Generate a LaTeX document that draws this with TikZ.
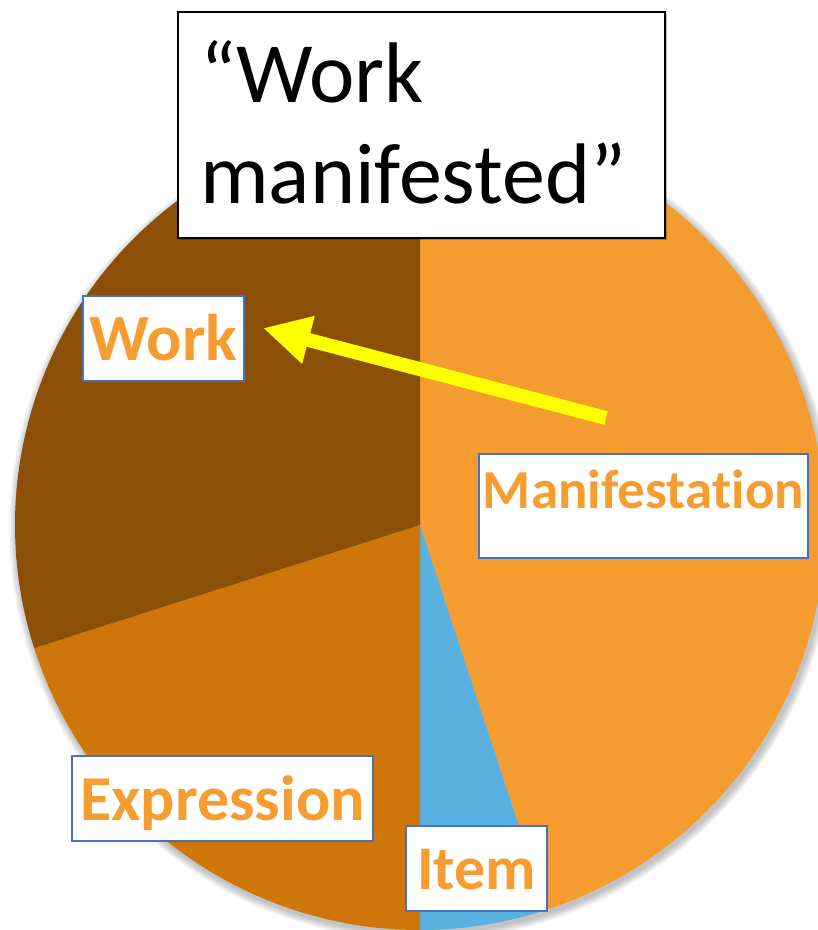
\documentclass[tikz,border=0pt]{standalone}
\usepackage{fontspec}
\setmainfont{Carlito}[RawFeature={-liga;-clig;-dlig;-calt}]
\usetikzlibrary{arrows.meta}
\definecolor{workc}{HTML}{8B4F08}
\definecolor{exprc}{HTML}{CE7609}
\definecolor{manic}{HTML}{F49C2F}
\definecolor{itemc}{HTML}{5AB1DF}
\definecolor{labblue}{HTML}{4472C4}
\definecolor{labtext}{HTML}{F59D31}
\definecolor{arrowc}{HTML}{FFFF00}
\begin{document}
\begin{tikzpicture}[x=1pt,y=-1pt,
  lab/.style={draw=labblue, line width=2pt, fill=white, text=labtext,
    inner xsep=0pt, inner ysep=0pt, anchor=base},
  titletext/.style={anchor=base west, inner sep=0pt, font=\fontsize{86}{101}\selectfont}]
\useasboundingbox (0,0) rectangle (818,930);
\clip (0,0) rectangle (818,930);
\fill[white] (0,0) rectangle (818,930);
\coordinate (C) at (420,525);
% soft shadow
\foreach \i in {1,...,8}
  \fill[black, opacity=0.03] ([shift={(2,3)}]C) circle[radius=405+\i];
% slices
\fill[manic] (C) -- ++(-90:405) arc[start angle=-90, end angle=71.8, radius=405] -- cycle;
\fill[itemc] (C) -- ++(71.8:405) arc[start angle=71.8, end angle=90, radius=405] -- cycle;
\fill[exprc] (C) -- ++(90:405) arc[start angle=90, end angle=162.3, radius=405] -- cycle;
\fill[workc] (C) -- ++(162.3:405) arc[start angle=162.3, end angle=270, radius=405] -- cycle;
% title
\fill[black, opacity=0.25] (180,14) rectangle (667,240);
\node[draw=black, line width=1.5pt, fill=white, minimum width=487pt, minimum height=226pt,
  anchor=north west, inner sep=0pt] (tbox) at (177,11) {};
\node[titletext] (t1) at (200,102) {“Work};
\node[titletext] (t2) at (200,203) {manifested”};
% labels
\node[lab, minimum width=161pt, text height=64pt, text depth=21pt,
  font=\fontsize{66}{66}\selectfont\bfseries] (work) at (163.5,360) {Work};
\node[lab, minimum width=329pt, text height=54pt, text depth=50pt,
  font=\fontsize{55}{55}\selectfont\bfseries] (mani) at (643.5,508) {Manifesta\kern0pt tion};
\node[lab, minimum width=301pt, text height=64pt, text depth=21pt,
  font=\fontsize{64}{64}\selectfont\bfseries] (expr) at (222.5,820) {Expression};
\node[lab, minimum width=141pt, text height=63pt, text depth=22pt,
  font=\fontsize{62}{62}\selectfont\bfseries] (item) at (476.5,889) {Item};
% arrow
\coordinate (astart) at (606,418);
\coordinate (atip) at (263,328);
\draw[arrowc, line width=14pt, -{Triangle[length=47pt, width=46pt]}] (astart) -- (atip);
\end{tikzpicture}
\end{document}
